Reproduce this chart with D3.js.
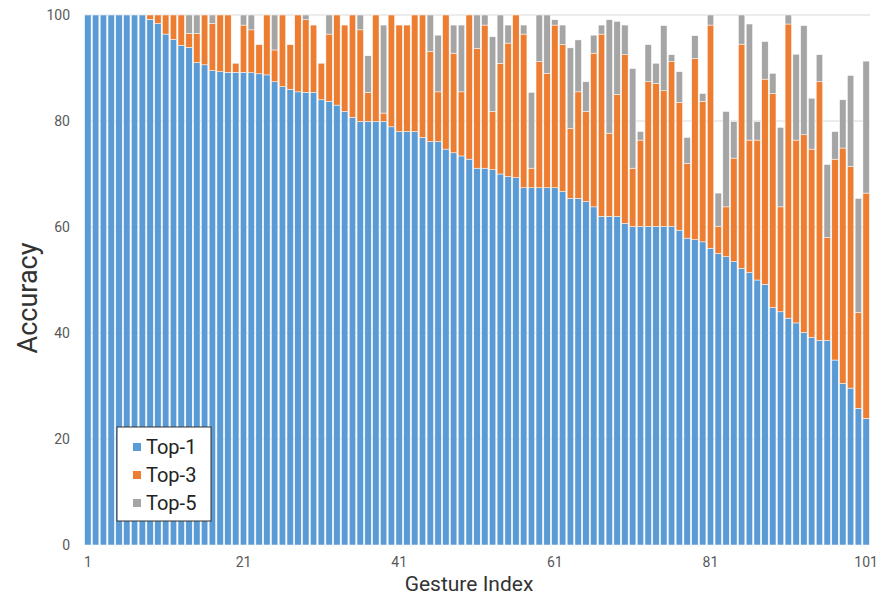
<!DOCTYPE html>
<html lang="en">
<head>
  <meta charset="UTF-8">
  <title>Gesture accuracy</title>
  <script src="https://d3js.org/d3.v7.min.js"></script>
  <style>
    body { margin: 0; background: #fff; }
    svg text { font-family: Roboto, "Liberation Sans", sans-serif; }
  </style>
</head>
<body>
  <svg id="chart" width="877" height="597"></svg>

  <script>
    // —— data (cumulative accuracy per gesture) ——
    const top1 = [
      100,100,100,100,100,100,100,100,99.2,98.4,
      96.4,95.4,94.3,93.9,91.0,90.6,89.5,89.3,89.2,89.2,
      89.2,89.1,88.9,88.7,87.4,86.5,86.0,85.5,85.4,85.4,
      84.0,83.7,83.0,81.8,80.7,79.9,79.9,79.9,79.9,78.9,
      78.0,78.0,78.0,76.9,76.1,76.1,74.7,74.0,73.4,72.8,
      71.1,71.1,70.8,70.0,69.5,69.3,67.4,67.4,67.4,67.4,
      67.4,66.7,65.4,65.4,64.8,63.8,62.0,62.0,62.0,60.7,
      60.1,60.1,60.1,60.1,60.1,60.1,59.4,57.9,57.6,57.2,
      56.0,55.0,54.4,53.5,52.2,51.4,50.0,49.2,44.8,44.0,
      42.8,41.9,40.1,39.2,38.6,38.6,34.9,30.5,29.6,25.8,
      23.9
    ];
    const top3 = [
      100,100,100,100,100,100,100,100,100,100,
      100,100,100,96.5,96.5,100,98.4,100,100,90.9,
      98.1,97.2,94.4,100,93.4,100,94.4,100,99.1,98.1,
      90.9,96.4,100,98.1,100,97.2,85.4,100,81.5,100,
      98.1,98.1,100,100,93.1,85.5,100,92.8,85.5,100,
      93.7,98.1,81.8,90.9,94.7,100,96.4,71.1,91.2,89.0,
      98.1,94.4,78.6,85.5,81.8,92.8,96.4,77.7,85.0,92.5,
      71.1,76.4,87.4,87.1,85.7,91.2,83.5,72.0,91.8,83.7,
      98.1,60.1,63.8,73.0,94.5,76.4,76.4,87.9,85.2,63.8,
      98.3,76.4,77.4,74.7,87.4,58.0,72.8,74.9,71.4,43.9,
      66.4
    ];
    const top5 = [
      100,100,100,100,100,100,100,100,100,100,
      100,100,100,100,100,100,100,100,100,90.9,
      100,100,94.4,100,100,100,94.4,100,100,98.1,
      90.9,100,100,98.1,100,100,92.3,100,98.1,100,
      98.1,98.1,100,100,100,96.2,100,98.1,98.1,100,
      100,100,95.9,100,98.1,100,98.1,85.4,100,100,
      99.1,98.1,93.8,95.3,87.4,96.2,98.1,99.1,98.8,98.1,
      89.9,78.0,94.4,90.9,98.0,92.5,89.3,76.9,96.1,85.2,
      100,66.4,81.8,79.9,100,98.3,79.9,95.0,89.0,78.8,
      100,92.6,98.0,84.3,92.5,71.8,78.0,84.0,88.6,65.4,
      91.3
    ];
    const seriesNames = ["Top-1", "Top-3", "Top-5"];
    const seriesColors = ["#5b9bd5", "#ed7d31", "#a5a5a5"];
    const yTicks = [0, 20, 40, 60, 80, 100];
    const xTickLabels = [1, 21, 41, 61, 81, 101];

    const gestures = d3.range(1, top1.length + 1);
    const rows = gestures.map((g, i) => ({
      g,
      segs: [[0, top1[i]], [top1[i], top3[i]], [top3[i], top5[i]]]
    }));

    const svg = d3.select("#chart");
    const x = d3.scaleBand().domain(gestures).range([84, 870]).paddingInner(0.17).paddingOuter(0.08);
    const y = d3.scaleLinear().domain([0, 100]).range([545, 15]);

    // gridlines
    svg.append("g").selectAll("line").data(yTicks.slice(1)).join("line")
      .attr("x1", 84).attr("x2", 870)
      .attr("y1", d => y(d)).attr("y2", d => y(d))
      .attr("stroke", "#d9d9d9").attr("stroke-width", 1);

    // stacked bars
    const barG = svg.append("g");
    rows.forEach(r => {
      r.segs.forEach((s, k) => {
        if (s[1] - s[0] <= 0) return;
        barG.append("rect")
          .attr("x", x(r.g))
          .attr("width", x.bandwidth())
          .attr("y", y(s[1]))
          .attr("height", y(s[0]) - y(s[1]))
          .attr("fill", seriesColors[k])
          .attr("stroke", "#fff")
          .attr("stroke-width", 0.5);
      });
    });

    // y axis labels
    svg.append("g").selectAll("text").data(yTicks).join("text")
      .attr("x", 70).attr("y", d => y(d) + 5)
      .attr("text-anchor", "end")
      .attr("font-size", 14).attr("fill", "#595959")
      .text(d => d);

    // x axis labels
    svg.append("g").selectAll("text").data(xTickLabels).join("text")
      .attr("x", d => x(d) + x.bandwidth() / 2).attr("y", 567)
      .attr("text-anchor", "middle")
      .attr("font-size", 14).attr("fill", "#595959")
      .text(d => d);

    // axis titles
    svg.append("text")
      .attr("x", 469).attr("y", 591)
      .attr("text-anchor", "middle")
      .attr("font-size", 21).attr("fill", "#333")
      .text("Gesture Index");

    svg.append("text")
      .attr("transform", "translate(37,298) rotate(-90)")
      .attr("text-anchor", "middle")
      .attr("font-size", 27).attr("fill", "#333")
      .text("Accuracy");

    // legend
    const leg = svg.append("g").attr("transform", "translate(117,427)");
    leg.append("rect").attr("width", 94).attr("height", 94)
      .attr("fill", "#fff").attr("stroke", "#333").attr("stroke-width", 1);
    const item = leg.selectAll("g.item").data(seriesNames).join("g")
      .attr("class", "item")
      .attr("transform", (d, i) => `translate(0,${20 + i * 28})`);
    item.append("rect").attr("x", 16).attr("y", -4).attr("width", 8).attr("height", 8)
      .attr("fill", (d, i) => seriesColors[i]);
    item.append("text").attr("x", 29).attr("y", 7)
      .attr("font-size", 20).attr("fill", "#222")
      .text(d => d);
  </script>
</body>
</html>
